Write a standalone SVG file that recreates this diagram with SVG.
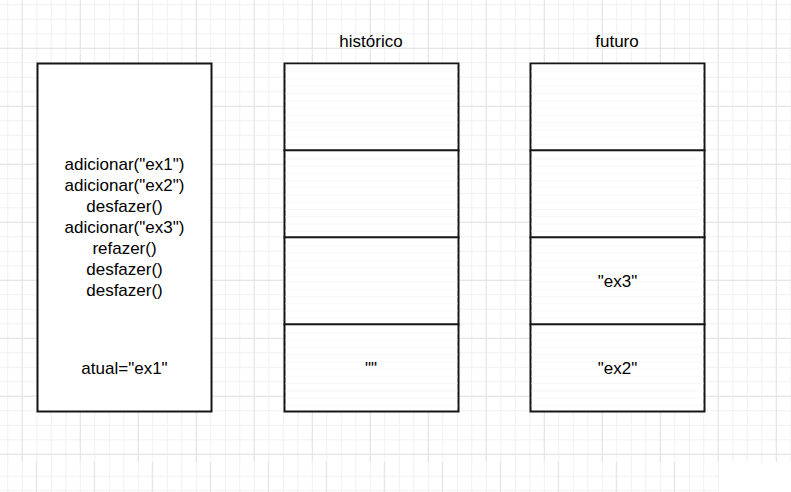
<svg xmlns="http://www.w3.org/2000/svg" width="791" height="492" viewBox="0 0 791 492">
  <defs>
    <pattern id="minorA" patternUnits="userSpaceOnUse" x="7.3" y="4.3" width="14.5" height="14.5">
      <rect x="0" y="0" width="1" height="14.5" fill="#f1f1f1"/>
      <rect x="0" y="0" width="14.5" height="1" fill="#f1f1f1"/>
    </pattern>
    <pattern id="majorA" patternUnits="userSpaceOnUse" x="21.8" y="47.8" width="58" height="58">
      <rect x="0" y="0" width="1" height="58" fill="#e2e2e2"/>
      <rect x="0" y="0" width="58" height="1" fill="#e2e2e2"/>
    </pattern>
    <pattern id="minorB" patternUnits="userSpaceOnUse" x="7.3" y="461.2" width="14.5" height="14.5">
      <rect x="0" y="0" width="1" height="14.5" fill="#f1f1f1"/>
      <rect x="0" y="0" width="14.5" height="1" fill="#f1f1f1"/>
    </pattern>
    <pattern id="majorB" patternUnits="userSpaceOnUse" x="35.8" y="461.2" width="58" height="58">
      <rect x="0" y="0" width="1" height="58" fill="#e2e2e2"/>
    </pattern>
    <pattern id="cellLines" patternUnits="userSpaceOnUse" x="0" y="64" width="10" height="7.25">
      <rect x="0" y="0" width="10" height="1" fill="#f6f6f6"/>
    </pattern>
    <style>
      .box { fill: #ffffff; stroke: #151515; stroke-width: 2; }
      .cell { fill: url(#cellLines); stroke: #151515; stroke-width: 2; }
      .t { font-family: "Liberation Sans", Arial, sans-serif; font-size: 17px; fill: #000000; text-anchor: middle; }
    </style>
  </defs>

  <!-- background grid -->
  <rect x="0" y="0" width="791" height="492" fill="#ffffff"/>
  <rect x="0" y="0" width="791" height="462" fill="url(#minorA)"/>
  <rect x="0" y="0" width="791" height="462" fill="url(#majorA)"/>
  <rect x="0" y="462" width="719" height="30" fill="url(#minorB)"/>
  <rect x="0" y="462" width="719" height="30" fill="url(#majorB)"/>

  <g id="connectors"></g>

  <g id="operations">
    <rect class="box" x="37.5" y="63.5" width="174" height="348"/>
    <text class="t" x="124.5" y="169.5">adicionar("ex1")</text>
    <text class="t" x="124.5" y="190.5">adicionar("ex2")</text>
    <text class="t" x="124.5" y="211.5">desfazer()</text>
    <text class="t" x="124.5" y="232.5">adicionar("ex3")</text>
    <text class="t" x="124.5" y="253.5">refazer()</text>
    <text class="t" x="124.5" y="274.5">desfazer()</text>
    <text class="t" x="124.5" y="295.5">desfazer()</text>
    <text class="t" x="124.5" y="373.5">atual="ex1"</text>
  </g>

  <g id="historico">
    <text class="t" x="371" y="47">histórico</text>
    <g id="historico-cell1"><rect class="box" x="284.5" y="63.5" width="174" height="87"/><rect x="285.5" y="64.5" width="172" height="85" fill="url(#cellLines)"/></g>
    <g id="historico-cell2"><rect class="box" x="284.5" y="150.5" width="174" height="87"/><rect x="285.5" y="151.5" width="172" height="85" fill="url(#cellLines)"/></g>
    <g id="historico-cell3"><rect class="box" x="284.5" y="237.5" width="174" height="87"/><rect x="285.5" y="238.5" width="172" height="85" fill="url(#cellLines)"/></g>
    <g id="historico-cell4"><rect class="box" x="284.5" y="324.5" width="174" height="87"/><rect x="285.5" y="325.5" width="172" height="85" fill="url(#cellLines)"/>
      <text class="t" x="371" y="373.5">""</text></g>
  </g>

  <g id="futuro">
    <text class="t" x="617" y="47">futuro</text>
    <g id="futuro-cell1"><rect class="box" x="530.5" y="63.5" width="174" height="87"/><rect x="531.5" y="64.5" width="172" height="85" fill="url(#cellLines)"/></g>
    <g id="futuro-cell2"><rect class="box" x="530.5" y="150.5" width="174" height="87"/><rect x="531.5" y="151.5" width="172" height="85" fill="url(#cellLines)"/></g>
    <g id="futuro-cell3"><rect class="box" x="530.5" y="237.5" width="174" height="87"/><rect x="531.5" y="238.5" width="172" height="85" fill="url(#cellLines)"/>
      <text class="t" x="617.5" y="286.5">"ex3"</text></g>
    <g id="futuro-cell4"><rect class="box" x="530.5" y="324.5" width="174" height="87"/><rect x="531.5" y="325.5" width="172" height="85" fill="url(#cellLines)"/>
      <text class="t" x="617.5" y="373.5">"ex2"</text></g>
  </g>
</svg>
